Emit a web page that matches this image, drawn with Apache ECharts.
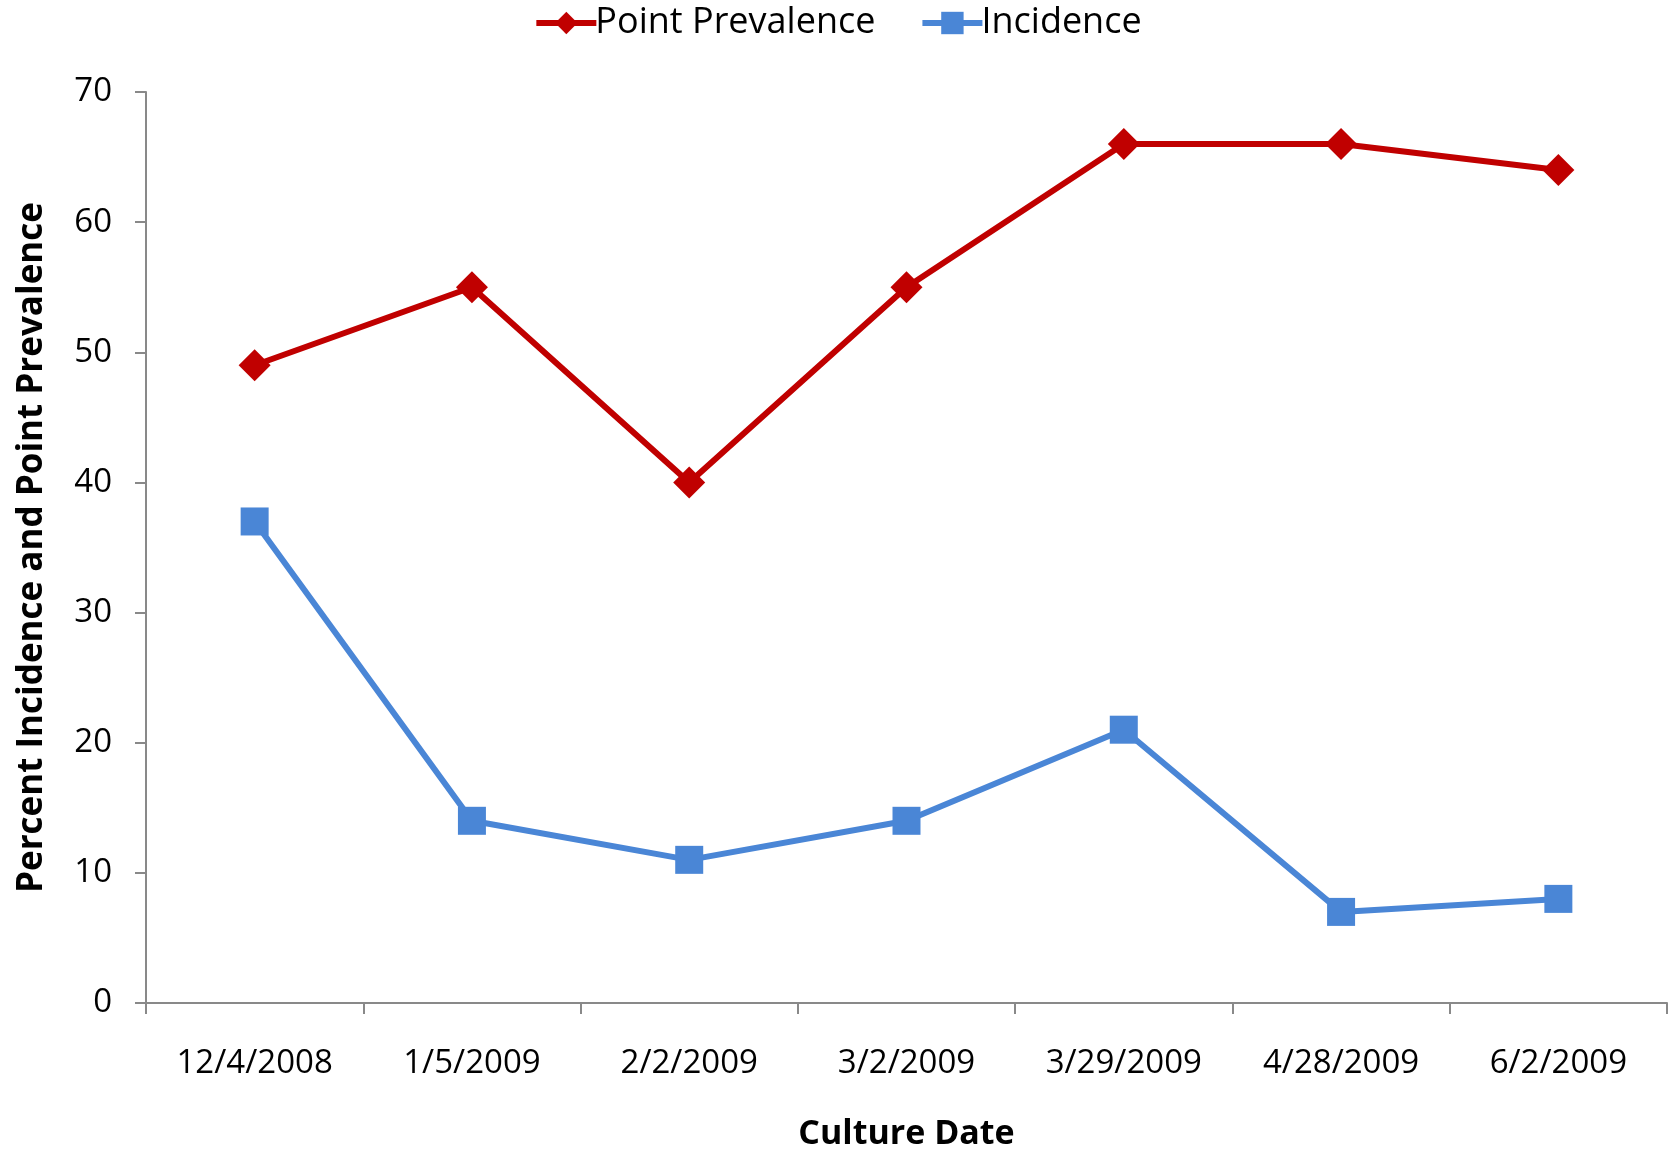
<!DOCTYPE html>
<html><head><meta charset="utf-8">
<script src="https://cdn.jsdelivr.net/npm/echarts@6/dist/echarts.min.js"></script>
<style>html,body{margin:0;padding:0;background:#fff}#c{width:1675px;height:1149px}</style>
</head><body><div id="c"></div>
<script>
var categories = ['12/4/2008','1/5/2009','2/2/2009','3/2/2009','3/29/2009','4/28/2009','6/2/2009'];
var pointPrevalence = [49, 55, 40, 55, 66, 66, 64];
var incidence = [37, 14, 11, 14, 21, 7, 8];
var yTicks = {min: 0, max: 70, interval: 10};
var FONT = '"Open Sans", sans-serif';
var RED = '#C00000', BLUE = '#4A86D6';
var chart = echarts.init(document.getElementById('c'), null, {renderer: 'canvas'});
chart.setOption({
  animation: false,
  backgroundColor: '#fff',
  legend: {
    top: 0, left: 'center',
    itemWidth: 60, itemHeight: 28, itemGap: 44,
    textStyle: {fontFamily: FONT, fontSize: 36, color: '#000', padding: [0,0,0,-6]},
    data: [
      {name: 'Point Prevalence', lineStyle: {width: 6, color: RED}},
      {name: 'Incidence', lineStyle: {width: 6, color: BLUE}}
    ]
  },
  grid: {left: 146, right: 8, top: 92, bottom: 146, containLabel: false, outerBoundsMode: 'none'},
  xAxis: {
    type: 'category', data: categories, boundaryGap: true,
    name: 'Culture Date', nameLocation: 'middle', nameGap: 114,
    nameTextStyle: {fontFamily: FONT, fontSize: 34, fontWeight: 'bold', color: '#000'},
    axisLine: {lineStyle: {color: '#898989', width: 2}},
    axisTick: {show: true, length: 11, lineStyle: {color: '#898989', width: 2}},
    axisLabel: {fontFamily: FONT, fontSize: 33, color: '#000', margin: 44}
  },
  yAxis: {
    type: 'value', min: yTicks.min, max: yTicks.max, interval: yTicks.interval,
    name: 'Percent Incidence and Point Prevalence', nameLocation: 'middle', nameGap: 96,
    nameTextStyle: {fontFamily: FONT, fontSize: 35, fontWeight: 'bold', color: '#000'},
    splitLine: {show: false},
    axisLine: {show: true, lineStyle: {color: '#898989', width: 2}},
    axisTick: {show: true, length: 11, lineStyle: {color: '#898989', width: 2}},
    axisLabel: {fontFamily: FONT, fontSize: 33, color: '#000', margin: 34}
  },
  series: [
    {name: 'Point Prevalence', type: 'line', data: pointPrevalence,
     symbol: 'diamond', symbolSize: 32, showAllSymbol: true,
     lineStyle: {color: RED, width: 6}, itemStyle: {color: RED}},
    {name: 'Incidence', type: 'line', data: incidence,
     symbol: 'rect', symbolSize: 28, showAllSymbol: true,
     lineStyle: {color: BLUE, width: 6}, itemStyle: {color: BLUE}}
  ]
});
</script></body></html>
